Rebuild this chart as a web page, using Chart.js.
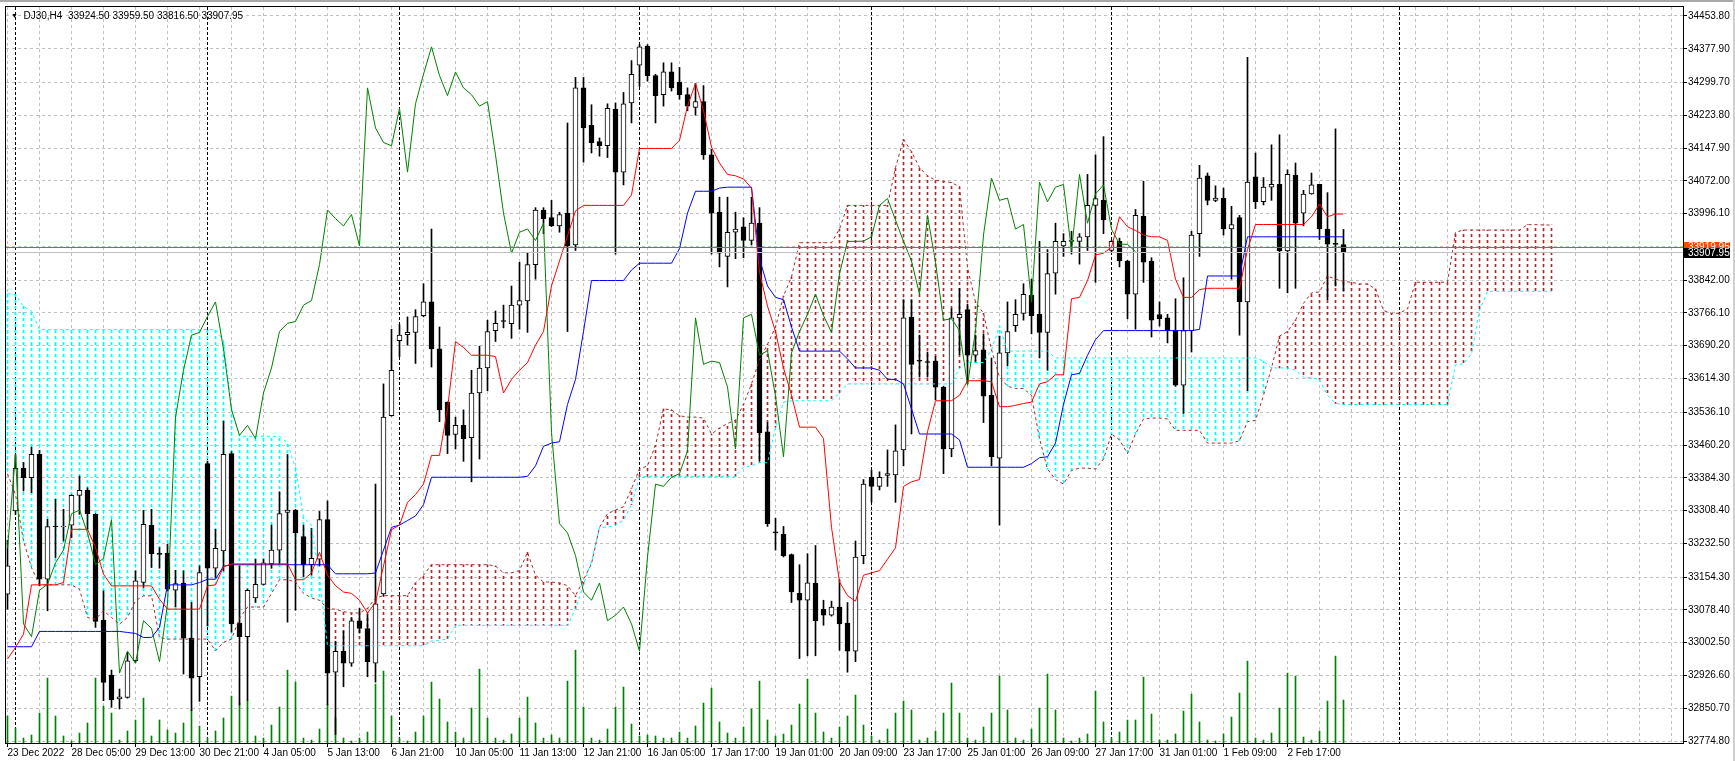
<!DOCTYPE html>
<html>
<head>
<meta charset="utf-8">
<script src="https://cdn.jsdelivr.net/npm/chart.js@4.4.0/dist/chart.umd.min.js"></script>
<style>
html, body { margin: 0; padding: 0; background: #fff; }
#wrap { position: relative; width: 1735px; height: 761px; overflow: hidden; }
#franja { position: absolute; left: 0; top: 0; width: 1735px; height: 2px; background: #a8a8a8; }
#borde { position: absolute; right: 0; top: 0; width: 2px; height: 761px; background: #d0d0d0; }
#titulo { position: absolute; left: 11px; top: 10px; font: 10px "Liberation Sans", Arial, sans-serif; color: #000; white-space: pre; }
#titulo .tri { font-size: 7px; position: relative; top: -1px; }
</style>
</head>
<body>
<div id="wrap">
  <canvas id="grafica" width="1735" height="761"></canvas>
  <div id="franja"></div>
  <div id="borde"></div>
  <div id="titulo"><span class="tri">▼</span>  DJ30,H4  33924.50 33959.50 33816.50 33907.95</div>
</div>
<script>
// H4 bars, index 0 = 23 Dec 2022
var opens = [
33114.8,33307.5,33406.2,33384.6,33438.5,33149.5,33271.3,33270.5,33274.4,33343.7,
33355.3,33299.8,33054.7,32927.5,32872.0,32875.9,32960.7,33141.8,33274.4,33207.5,
33209.6,33124.1,33140.3,33013.1,32923.7,33417.0,33175.0,33215.0,33440.4,33048.0,
33016.5,33106.0,33137.7,33185.2,33216.9,33304.4,33309.6,33248.5,33183.1,33195.8,
33287.5,32934.2,32982.7,32955.3,33053.4,33035.4,32955.3,33115.6,33528.0,33702.0,
33715.7,33721.0,33760.0,33791.6,33683.0,33559.6,33484.7,33505.8,33477.3,33580.7,
33638.7,33725.2,33747.0,33741.0,33784.2,33793.7,33878.1,34004.6,33986.7,33967.7,
33997.3,33923.4,34287.3,34200.8,34162.8,34153.3,34237.7,34092.2,34252.5,34340.0,
34384.3,34315.8,34271.5,34324.2,34301.0,34271.5,34242.0,34255.6,34132.2,33999.4,
33897.1,33953.0,33965.6,33934.0,33974.0,33491.0,33257.5,33253.8,33206.3,33116.7,
33100.8,33139.9,33079.8,33066.1,33085.0,33048.1,32982.7,33204.2,33385.6,33364.5,
33389.8,33390.9,33448.9,33756.8,33655.0,33651.5,33654.5,33594.4,33451.0,33754.7,
33773.7,33668.2,33680.9,33575.4,33429.9,33673.5,33736.8,33765.2,33807.4,33763.1,
33721.0,33858.0,33921.3,33931.9,33931.9,33942.4,34015.2,34026.8,33910.8,33931.9,
33886.5,33809.5,33989.9,33886.5,33762.1,33754.7,33725.2,33598.6,33725.2,33949.8,
34083.7,34026.8,34032.1,33960.4,33986.7,33791.6,34081.6,34023.6,34057.4,34063.7,
33909.7,34084.8,33997.3,34041.6,34063.7,33960.4,33925.5,33924.5
];
var highs = [
33239.7,33438.5,33420.0,33455.5,33447.8,33288.2,33334.5,33311.4,33345.0,33388.4,
33361.4,33301.5,33122.5,32939.1,32895.2,32980.0,33168.8,33309.1,33311.4,33222.7,
33230.4,33170.3,33168.8,33095.6,33180.3,33423.1,33265.1,33515.6,33445.0,33180.0,
33127.0,33195.8,33195.8,33274.9,33351.9,33438.3,33311.0,33274.9,33267.5,33306.5,
33330.8,33005.9,33029.1,33060.8,33081.8,33067.1,33369.8,33601.8,33728.3,33738.9,
33756.8,33773.7,33833.8,33960.4,33733.6,33560.0,33524.8,33541.7,33633.4,33689.3,
33749.4,33770.5,33784.2,33828.5,33883.4,33904.5,34009.9,34009.9,34026.8,33999.4,
34206.1,34311.5,34311.5,34248.3,34171.3,34250.4,34252.5,34276.7,34350.5,34387.5,
34387.5,34318.9,34345.3,34345.3,34334.7,34287.3,34297.8,34292.6,34144.9,34034.2,
34034.2,33999.4,33986.7,34034.2,34009.9,33512.0,33290.6,33271.7,33208.0,33183.1,
33208.5,33227.5,33100.8,33098.7,33148.3,33095.6,33238.0,33380.3,33401.4,33398.2,
33448.9,33506.9,33796.9,33796.9,33714.6,33675.6,33665.1,33596.5,33775.8,33823.2,
33786.3,33714.6,33717.8,33661.9,33712.5,33791.6,33796.9,33833.8,33844.3,33931.9,
33912.9,33974.0,33949.8,33955.1,33949.8,34086.9,34132.2,34174.4,33934.0,33939.3,
33888.0,34005.7,34071.1,33893.9,33791.6,33763.1,33799.0,33847.5,33955.1,34108.0,
34090.1,34060.5,34055.3,34013.1,33992.0,34357.9,34136.5,34079.5,34155.4,34178.7,
34097.4,34113.3,34050.0,34090.1,34064.0,34044.7,34192.4,33959.5
];
var lows = [
33080.2,33299.8,33353.8,33349.9,33134.1,33076.3,33199.6,33238.1,33245.9,33299.8,
33265.1,33037.8,32868.2,32852.8,32849.0,32874.0,32956.8,33130.3,33176.5,33175.0,
33122.5,33085.6,32929.9,32845.1,32866.7,33041.6,33153.4,33168.8,33027.0,32858.0,
32869.0,33095.6,33136.0,33174.7,33185.2,33050.2,33077.6,33155.7,33158.8,33180.0,
32858.3,32789.8,32900.5,32947.9,33024.9,32923.7,32911.0,33111.4,33527.0,33665.0,
33691.4,33649.2,33757.0,33640.8,33514.3,33440.4,33451.0,33422.5,33375.1,33427.8,
33586.0,33699.9,33731.5,33707.2,33728.3,33721.0,33844.3,33949.8,33966.0,33953.0,
33723.1,33910.8,34115.4,34136.5,34129.1,34125.9,33902.4,34062.6,34206.1,34290.4,
34303.1,34206.1,34245.1,34279.9,34260.9,34234.6,34224.0,34121.7,33902.4,33872.8,
33826.4,33891.8,33893.9,33923.4,33422.5,33271.7,33216.9,33201.0,33095.6,32965.9,
32972.2,32972.2,33042.8,33064.0,32984.8,32934.2,32958.5,33185.2,33327.6,33356.0,
33364.5,33327.6,33412.0,33485.8,33617.6,33617.6,33564.9,33394.0,33433.1,33670.3,
33601.8,33654.5,33512.2,33412.0,33274.9,33644.0,33723.1,33749.4,33717.8,33661.9,
33633.4,33809.5,33897.1,33902.4,33879.1,33910.8,33836.9,33949.8,33907.6,33872.8,
33752.6,33728.3,33836.9,33710.4,33735.7,33696.7,33596.5,33533.3,33675.6,33897.1,
34016.2,34023.6,33946.6,33844.3,33714.6,33586.0,34007.8,34016.2,34026.8,33823.2,
33812.7,33823.2,33967.7,34041.0,33936.1,33796.9,33828.5,33816.5
];
var closes = [
33180.3,33406.2,33384.6,33438.5,33149.5,33271.3,33270.5,33271.0,33343.7,33355.3,
33301.3,33051.6,32910.6,32869.7,32877.4,32960.7,33145.7,33276.7,33208.9,33207.0,
33126.4,33139.5,33013.1,32920.6,33164.9,33175.0,33221.2,33438.5,33046.0,33016.5,
33124.0,33137.7,33187.3,33216.9,33301.2,33309.6,33256.9,33183.1,33197.9,33287.5,
32932.1,32982.7,32955.3,33053.4,33035.4,32958.5,33092.4,33524.8,33633.4,33714.6,
33721.0,33757.9,33791.6,33683.0,33541.7,33482.6,33505.8,33475.2,33580.7,33638.7,
33723.1,33742.0,33746.3,33784.2,33794.8,33878.1,34004.6,33984.6,33967.7,33994.1,
33921.3,34287.3,34194.5,34160.7,34153.3,34239.8,34092.2,34250.4,34318.9,34382.2,
34315.8,34269.4,34324.2,34287.3,34271.5,34245.1,34255.6,34132.2,33997.3,33904.5,
33953.0,33960.4,33934.0,33974.0,33488.9,33278.0,33256.9,33204.2,33119.8,33100.8,
33140.9,33053.4,33066.1,33085.0,33046.0,32982.7,33201.0,33369.8,33364.5,33385.6,
33394.0,33446.8,33754.7,33647.1,33654.5,33651.3,33594.4,33451.0,33754.7,33763.1,
33668.2,33678.8,33573.3,33433.1,33673.5,33723.1,33763.1,33809.5,33760.0,33721.0,
33857.0,33931.9,33931.9,33932.4,33942.4,34015.2,34031.0,33981.4,33931.9,33886.5,
33809.5,33992.0,33883.4,33749.4,33752.6,33725.2,33598.6,33725.2,33946.6,34078.5,
34026.8,34032.1,33960.4,33970.9,33791.6,34069.0,34023.6,34057.4,34063.7,33909.7,
34086.9,33974.0,34041.6,34062.6,33960.4,33925.5,33925.0,33907.95
];
var volumes = [
27,15,5,8,30,65,27,7,2,10, 20,65,37,30,3,12,23,45,7,23,
13,10,20,33,17,5,12,25,47,40, 43,7,5,18,36,73,61,5,3,14,
39,25,5,2,5,11,59,72,27,5, 2,11,27,61,44,21,11,5,35,74,
25,5,3,9,25,46,20,5,8,5, 62,93,36,5,3,14,36,56,19,7,
8,7,5,5,11,5,17,40,55,21, 10,5,16,34,62,23,7,9,18,39,
64,30,11,5,16,27,48,18,7,3, 14,30,42,33,3,5,12,30,60,30,
5,3,16,30,67,33,5,3,14,35, 69,33,5,2,5,9,52,21,5,11,
23,23,66,29,3,3,9,32,49,21, 3,2,9,26,50,82,5,3,10,35,
70,67,6,3,12,42,87,43
];
var tenkan = [
32964.6,32991.5,33022.4,33136.4,33136.4,33136.4,33136.4,33141.8,33265.1,33265.1,
33265.1,33222.7,33161.1,33134.1,33134.1,33134.1,33134.1,33134.1,33134.1,33103.3,
33080.2,33080.2,33080.2,33080.2,33080.2,33134.1,33136.4,33178.0,33185.0,33185.0,
33185.0,33185.0,33185.0,33185.0,33185.0,33185.0,33148.3,33148.3,33164.2,33211.6,
33158.8,33134.6,33119.8,33116.7,33100.8,33071.3,33095.6,33180.0,33264.3,33274.9,
33327.6,33345.5,33369.8,33436.2,33436.2,33543.8,33699.9,33686.2,33668.2,33668.2,
33668.2,33665.0,33580.7,33612.3,33633.4,33651.3,33691.4,33723.1,33828.5,33886.5,
33944.5,34002.5,34015.2,34015.2,34015.2,34015.2,34015.2,34015.2,34039.4,34147.0,
34147.0,34147.0,34147.0,34147.0,34166.0,34245.1,34297.8,34234.6,34150.2,34113.3,
34086.9,34083.7,34076.4,34055.3,33860.2,33782.0,33723.1,33638.7,33575.4,33501.6,
33501.6,33501.6,33475.2,33269.6,33143.0,33111.4,33098.7,33158.8,33164.2,33169.4,
33195.8,33222.1,33364.5,33375.1,33380.3,33491.0,33562.8,33562.8,33562.8,33575.4,
33609.1,33609.1,33609.1,33607.0,33549.0,33549.0,33552.0,33556.4,33559.6,33601.8,
33607.0,33622.9,33622.9,33799.0,33802.1,33841.2,33900.2,33904.5,33918.2,33988.8,
33965.6,33957.2,33946.6,33942.4,33942.4,33934.0,33844.3,33802.1,33802.1,33820.1,
33823.2,33823.2,33823.2,33823.2,33823.2,33912.9,33970.9,33970.9,33970.9,33970.9,
33970.9,33970.9,33970.9,33988.8,34018.4,33988.8,33995.2,33995.2
];
var kijun = [
32993.1,32993.1,32993.1,32993.1,33028.6,33028.6,33028.6,33028.6,33028.6,33028.6,
33028.6,33028.6,33028.6,33028.6,33028.6,33026.2,33023.9,33014.6,33014.6,33037.8,
33136.4,33136.4,33136.4,33136.4,33141.8,33149.5,33149.5,33179.6,33183.0,33183.0,
33183.0,33183.0,33183.0,33183.0,33183.0,33183.0,33183.0,33183.0,33183.0,33183.0,
33183.0,33162.0,33162.0,33162.0,33162.0,33162.0,33164.0,33216.9,33269.6,33274.9,
33285.4,33296.0,33322.3,33385.6,33385.6,33385.6,33385.6,33385.6,33385.6,33385.6,
33385.6,33385.6,33385.6,33385.6,33385.6,33387.7,33412.0,33457.3,33464.7,33467.9,
33554.3,33612.3,33723.1,33841.2,33841.2,33841.2,33841.2,33841.2,33865.4,33881.3,
33881.3,33881.3,33881.3,33881.3,33915.0,33997.3,34047.9,34047.9,34047.9,34055.3,
34057.4,34057.4,34057.4,34057.4,33891.8,33828.5,33802.1,33796.9,33733.6,33677.7,
33677.7,33677.7,33677.7,33677.7,33677.7,33659.8,33638.7,33638.7,33638.7,33633.4,
33612.3,33612.3,33601.8,33543.8,33485.8,33485.8,33485.8,33485.8,33485.8,33472.1,
33408.8,33408.8,33408.8,33408.8,33408.8,33408.8,33408.8,33408.8,33417.2,33431.0,
33433.1,33464.7,33554.3,33622.9,33626.0,33668.2,33704.1,33725.2,33725.2,33725.2,
33725.2,33725.2,33725.2,33725.2,33725.2,33725.2,33725.2,33725.2,33725.2,33728.0,
33851.7,33851.7,33851.7,33851.7,33851.7,33942.4,33942.4,33942.4,33942.4,33942.4,
33942.4,33942.4,33942.4,33942.4,33942.4,33942.4,33942.4,33942.4
];
// senkou spans run 26 bars past the last candle
var senkouA = [
33393.8,33346.0,33238.2,33176.5,33136.4,33136.4,33136.4,33136.4,33136.4,33126.4,
33060.9,33057.0,33076.3,33060.9,33045.5,33060.9,33099.4,33111.0,33111.0,33014.6,
33010.8,33010.8,33010.8,33010.8,33010.8,33010.8,32983.8,33003.1,33011.0,33058.7,
33085.0,33085.0,33085.0,33116.7,33148.3,33148.3,33143.0,33116.7,33106.1,33100.8,
33081.9,33079.8,33074.5,33071.3,33071.3,33081.9,33106.1,33111.4,33111.4,33111.4,
33111.4,33140.9,33158.8,33183.1,33183.1,33183.1,33183.1,33183.1,33183.1,33183.1,
33183.1,33180.0,33164.2,33164.2,33169.4,33211.6,33158.8,33143.0,33143.0,33140.9,
33134.6,33111.4,33148.3,33185.2,33269.6,33301.2,33309.6,33317.0,33359.2,33404.6,
33412.0,33459.4,33543.8,33541.7,33528.0,33524.8,33524.8,33522.7,33485.8,33499.5,
33510.1,33517.4,33554.3,33601.8,33657.7,33693.5,33733.6,33805.3,33849.6,33928.7,
33928.7,33928.7,33928.7,33928.7,33960.4,34015.2,34015.2,34015.2,34015.2,34015.2,
34015.2,34102.7,34168.1,34139.6,34102.7,34083.7,34073.2,34071.1,34067.9,34058.4,
33870.7,33791.6,33765.2,33680.9,33617.6,33596.5,33591.2,33591.2,33575.4,33475.2,
33404.6,33380.3,33369.8,33401.4,33406.7,33406.7,33404.6,33427.8,33485.8,33472.1,
33440.4,33485.8,33520.6,33522.7,33522.7,33520.6,33494.2,33494.2,33494.2,33494.2,
33464.7,33464.7,33464.7,33464.7,33470.0,33514.3,33517.4,33575.4,33638.7,33712.5,
33723.1,33749.4,33788.5,33812.7,33814.8,33851.7,33844.3,33839.1,33837.1,33833.2,
33833.2,33821.7,33771.6,33765.4,33765.4,33775.4,33837.1,33837.1,33837.1,33837.1,
33837.1,33952.7,33958.1,33958.1,33958.1,33958.1,33958.1,33958.1,33958.1,33958.1,
33970.5,33970.5,33969.7,33969.7
];
var senkouB = [
33810.9,33808.5,33781.5,33770.0,33727.5,33727.5,33727.5,33727.5,33727.5,33727.5,
33727.5,33727.5,33727.5,33727.5,33727.5,33727.5,33727.5,33727.5,33727.5,33727.5,
33727.5,33727.5,33727.5,33727.5,33727.5,33727.5,33727.5,33702.0,33543.8,33480.5,
33480.5,33480.5,33480.5,33480.5,33480.5,33464.7,33406.7,33292.8,33274.9,33153.6,
32995.4,32995.4,32995.4,32995.4,32995.4,32995.4,32995.4,32995.4,32995.4,32995.4,
32995.4,32995.4,32995.4,33006.0,33008.0,33011.0,33042.8,33042.8,33042.8,33042.8,
33042.8,33042.8,33042.8,33042.8,33042.8,33042.8,33042.8,33042.8,33042.8,33042.8,
33042.8,33079.8,33137.7,33190.5,33269.6,33269.6,33274.9,33285.4,33322.3,33385.6,
33387.7,33387.7,33387.7,33387.7,33387.7,33387.7,33387.7,33387.7,33387.7,33387.7,
33387.7,33387.7,33408.8,33411.9,33419.3,33419.3,33501.6,33559.6,33562.8,33562.8,
33562.8,33562.8,33562.8,33562.8,33580.7,33601.8,33601.8,33601.8,33601.8,33601.8,
33601.8,33601.8,33601.8,33601.8,33601.8,33601.8,33601.8,33601.8,33601.8,33638.7,
33651.3,33651.3,33651.3,33680.9,33735.7,33677.7,33677.7,33677.7,33677.7,33677.7,
33677.7,33661.9,33661.9,33661.9,33661.9,33661.9,33661.9,33661.9,33661.9,33661.9,
33661.9,33661.9,33661.9,33661.9,33661.9,33661.9,33661.9,33661.9,33661.9,33661.9,
33661.9,33661.9,33661.9,33661.9,33661.9,33661.9,33661.9,33654.5,33638.7,33638.7,
33638.7,33633.4,33617.6,33615.5,33612.3,33575.4,33556.4,33554.2,33554.2,33554.2,
33554.2,33554.2,33554.2,33554.2,33554.2,33554.2,33554.2,33554.2,33554.2,33554.2,
33554.2,33645.9,33648.2,33671.3,33771.6,33816.3,33816.3,33816.3,33816.3,33816.3,
33816.3,33816.3,33816.3,33816.3
];
var labelBars = [0,8,16,24,32,40,48,56,64,72,80,88,96,104,112,120,128,136,144,152,160];
var xLabels = ["23 Dec 2022","28 Dec 05:00","29 Dec 13:00","30 Dec 21:00","4 Jan 05:00","5 Jan 13:00",
  "6 Jan 21:00","10 Jan 05:00","11 Jan 13:00","12 Jan 21:00","16 Jan 05:00","17 Jan 17:00","19 Jan 01:00",
  "20 Jan 09:00","23 Jan 17:00","25 Jan 01:00","26 Jan 09:00","27 Jan 17:00","31 Jan 01:00","1 Feb 09:00","2 Feb 17:00"];
var yTicks = [34453.8,34377.9,34299.7,34223.8,34147.9,34072.0,33996.1,33920.0,33842.0,33766.1,33690.2,
  33614.3,33536.1,33460.2,33384.3,33308.4,33232.5,33154.3,33078.4,33002.5,32926.6,32850.7,32774.8];
var yLabels = ["34453.80","34377.90","34299.70","34223.80","34147.90","34072.00","33996.10","","33842.00","33766.10",
  "33690.20","33614.30","33536.10","33460.20","33384.30","33308.40","33232.50","33154.30","33078.40","33002.50",
  "32926.60","32850.70","32774.80"];
var separatorBars = [1,25,49,79,108,138,174];
var askPrice = 33919.95;
var bidPrice = 33907.95;
var chikouShift = 26;

var canvas = document.getElementById("grafica");
var ctx = canvas.getContext("2d");

// dotted vertical hatch used for the cloud
function rayado(color) {
    var c = document.createElement("canvas");
    c.width = 1; c.height = 6;
    var g = c.getContext("2d");
    g.fillStyle = color;
    g.fillRect(0, 0, 1, 3);
    return ctx.createPattern(c, "repeat");
}
var rayaCyan = rayado("#00ffff");
var rayaBrown = rayado("#a52a2a");

function puntos(arr, desde) {
    var out = [];
    for (var i = 0; i < arr.length; i++) out.push({x: i + (desde || 0), y: arr[i]});
    return out;
}

var wicks = [], bodies = [], vols = [], kumo = [];
for (var i = 0; i < opens.length; i++) {
    wicks.push({x: i, y: [lows[i], highs[i]]});
    bodies.push({x: i, y: [Math.min(opens[i], closes[i]), Math.max(opens[i], closes[i])]});
    vols.push({x: i, y: volumes[i]});
}
for (var k = 0; k < senkouA.length; k++) {
    kumo.push({x: k, y: [Math.min(senkouA[k], senkouB[k]), Math.max(senkouA[k], senkouB[k])]});
}
// chikou = closes plotted 26 bars back
var chikou = [];
for (var j = chikouShift; j < closes.length; j++) chikou.push({x: j - chikouShift, y: closes[j]});

var fuente = {family: "'Liberation Sans', Arial, sans-serif", size: 10};

var separadores = {
    id: "separadores",
    beforeDatasetsDraw: function(chart) {
        var a = chart.chartArea, sx = chart.scales.x, c = chart.ctx;
        c.save();
        c.strokeStyle = "#000";
        c.lineWidth = 1;
        c.setLineDash([3, 2]);
        separatorBars.forEach(function(b) {
            var px = Math.round(sx.getPixelForValue(b)) - 0.5;
            c.beginPath(); c.moveTo(px, a.top); c.lineTo(px, a.bottom); c.stroke();
        });
        c.restore();
    }
};

var precios = {
    id: "precios",
    afterDatasetsDraw: function(chart) {
        var a = chart.chartArea, sy = chart.scales.y, c = chart.ctx;
        c.save();
        c.lineWidth = 1;
        var yb = Math.round(sy.getPixelForValue(bidPrice)) + 0.5;
        c.strokeStyle = "#c0c0c0";
        c.beginPath(); c.moveTo(a.left, yb); c.lineTo(a.right, yb); c.stroke();
        var ya = Math.round(sy.getPixelForValue(askPrice)) + 0.5;
        c.strokeStyle = "#ff4500";
        c.beginPath(); c.moveTo(a.left, ya); c.lineTo(a.right, ya); c.stroke();
        c.restore();
    },
    afterDraw: function(chart) {
        var a = chart.chartArea, sy = chart.scales.y, c = chart.ctx;
        c.save();
        c.strokeStyle = "#000";
        c.lineWidth = 1;
        c.strokeRect(a.left - 0.5, a.top - 0.5, a.right - a.left + 1, a.bottom - a.top + 1);
        c.font = "10px 'Liberation Sans', Arial, sans-serif";
        c.textBaseline = "middle";
        var ya = Math.round(sy.getPixelForValue(askPrice));
        c.fillStyle = "#ff4500";
        c.fillRect(a.right + 1, ya - 5, 46, 11);
        c.fillStyle = "#fff";
        c.fillText(askPrice.toFixed(2), a.right + 5, ya + 0.5);
        var yb = Math.round(sy.getPixelForValue(bidPrice));
        c.fillStyle = "#000";
        c.fillRect(a.right + 1, yb - 4, 46, 10);
        c.fillStyle = "#fff";
        c.fillText(bidPrice.toFixed(2), a.right + 5, yb + 1);
        c.restore();
    }
};

var chart = new Chart(ctx, {
    type: "line",
    data: {
        datasets: [
            {label: "Tenkan", data: puntos(tenkan), borderColor: "#ff0000", borderWidth: 1, pointRadius: 0, order: 0},
            {label: "Kijun", data: puntos(kijun), borderColor: "#0000ff", borderWidth: 1, pointRadius: 0, order: 0},
            {label: "Chikou", data: chikou, borderColor: "#008000", borderWidth: 1, pointRadius: 0, order: 0},
            {label: "SenkouA", data: puntos(senkouA), borderColor: "#a52a2a", borderWidth: 1, borderDash: [3, 3], pointRadius: 0, order: 0},
            {label: "SenkouB", data: puntos(senkouB), borderColor: "#00ffff", borderWidth: 1, borderDash: [3, 3], pointRadius: 0, order: 0},
            {type: "bar", label: "Bodies", data: bodies, grouped: false, barThickness: 5, minBarLength: 1,
             borderWidth: 1, borderSkipped: false, borderColor: "#000",
             backgroundColor: function(c) { var n = c.dataIndex; return closes[n] >= opens[n] ? "#ffffff" : "#000000"; },
             order: 1},
            {type: "bar", label: "Wicks", data: wicks, grouped: false, barThickness: 1, backgroundColor: "#000", order: 2},
            {type: "bar", label: "Kumo", data: kumo, grouped: false, barThickness: 1,
             backgroundColor: function(c) { var n = c.dataIndex; return senkouB[n] > senkouA[n] ? rayaCyan : rayaBrown; },
             order: 3},
            {type: "bar", label: "Volume", data: vols, yAxisID: "yv", grouped: false, barThickness: 1, backgroundColor: "#008000", order: 4}
        ]
    },
    options: {
        responsive: false,
        devicePixelRatio: 1,
        animation: false,
        events: [],
        layout: {padding: {left: 6, top: 6, right: 0, bottom: 0}},
        plugins: {legend: {display: false}, tooltip: {enabled: false}},
        scales: {
            x: {
                type: "linear",
                min: -0.1875,
                max: 209.4375,
                offset: false,
                afterBuildTicks: function(s) {
                    var t = [];
                    for (var b = 0; b <= 208; b += 4) t.push({value: b});
                    s.ticks = t;
                },
                afterFit: function(s) { s.height = 18; },
                grid: {color: "#c0c0c0", offset: false, tickLength: 4,
                       tickColor: function(c) { return c.tick && labelBars.indexOf(c.tick.value) >= 0 ? "#000" : "rgba(0,0,0,0)"; }},
                border: {display: false, dash: [3, 3]},
                ticks: {
                    autoSkip: false, maxRotation: 0, align: "start", padding: 0, color: "#000", font: fuente,
                    callback: function(v) { var n = labelBars.indexOf(v); return n >= 0 ? xLabels[n] : ""; }
                }
            },
            y: {
                type: "linear",
                position: "right",
                min: 32770.2,
                max: 34474.6,
                afterBuildTicks: function(s) { s.ticks = yTicks.map(function(v) { return {value: v}; }); },
                afterFit: function(s) { s.width = 52; },
                grid: {color: "#c0c0c0", tickLength: 4,
                       tickColor: function(c) { return c.index !== undefined && yLabels[c.index] ? "#000" : "rgba(0,0,0,0)"; }},
                border: {display: false, dash: [3, 3]},
                ticks: {
                    autoSkip: false, padding: 1, color: "#000", font: fuente,
                    callback: function(v, n) { return yLabels[n]; }
                }
            },
            yv: {type: "linear", display: false, min: 0, max: 737}
        }
    },
    plugins: [separadores, precios]
});
</script>
</body>
</html>
